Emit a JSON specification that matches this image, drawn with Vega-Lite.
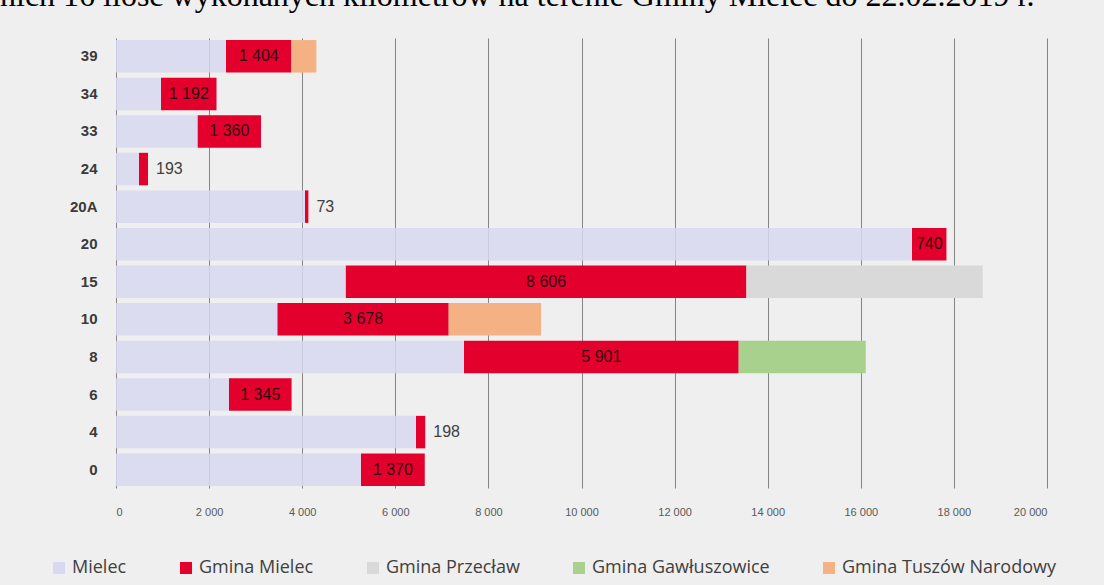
{
  "$schema": "https://vega.github.io/schema/vega-lite/v6.json",
  "autosize": "none",
  "width": 931,
  "height": 450,
  "padding": {"left": 116, "top": 38, "right": 57, "bottom": 97},
  "background": "#efefef",
  "title": {
    "text": "nich 16 ilość wykonanych kilometrów na terenie Gminy Mielec do 22.02.2019 r.",
    "anchor": "start",
    "frame": "group",
    "orient": "top",
    "dx": -116,
    "dy": 20,
    "offset": 20,
    "baseline": "alphabetic",
    "font": "Liberation Serif",
    "fontSize": 32,
    "fontWeight": "normal",
    "color": "#000000"
  },
  "config": {
    "locale": {"number": {"decimal": ",", "thousands": " ", "grouping": [3], "currency": ["", " zł"]}},
    "view": {"stroke": null},
    "font": "Liberation Sans"
  },
  "data": {
    "values": [
      {"linia": "39", "seria": "Mielec", "km": 2363},
      {"linia": "39", "seria": "Gmina Mielec", "km": 1404},
      {"linia": "39", "seria": "Gmina Tuszów Narodowy", "km": 537},
      {"linia": "34", "seria": "Mielec", "km": 967},
      {"linia": "34", "seria": "Gmina Mielec", "km": 1192},
      {"linia": "33", "seria": "Mielec", "km": 1755},
      {"linia": "33", "seria": "Gmina Mielec", "km": 1360},
      {"linia": "24", "seria": "Mielec", "km": 494},
      {"linia": "24", "seria": "Gmina Mielec", "km": 193},
      {"linia": "20A", "seria": "Mielec", "km": 4060},
      {"linia": "20A", "seria": "Gmina Mielec", "km": 73},
      {"linia": "20", "seria": "Mielec", "km": 17100},
      {"linia": "20", "seria": "Gmina Mielec", "km": 740},
      {"linia": "15", "seria": "Mielec", "km": 4937},
      {"linia": "15", "seria": "Gmina Mielec", "km": 8606},
      {"linia": "15", "seria": "Gmina Przecław", "km": 5076},
      {"linia": "10", "seria": "Mielec", "km": 3469},
      {"linia": "10", "seria": "Gmina Mielec", "km": 3678},
      {"linia": "10", "seria": "Gmina Tuszów Narodowy", "km": 1983},
      {"linia": "8", "seria": "Mielec", "km": 7476},
      {"linia": "8", "seria": "Gmina Mielec", "km": 5901},
      {"linia": "8", "seria": "Gmina Gawłuszowice", "km": 2730},
      {"linia": "6", "seria": "Mielec", "km": 2427},
      {"linia": "6", "seria": "Gmina Mielec", "km": 1345},
      {"linia": "4", "seria": "Mielec", "km": 6445},
      {"linia": "4", "seria": "Gmina Mielec", "km": 198},
      {"linia": "0", "seria": "Mielec", "km": 5263},
      {"linia": "0", "seria": "Gmina Mielec", "km": 1370}
    ]
  },
  "transform": [
    {"window": [{"op": "row_number", "as": "kolejnosc"}]}
  ],
  "encoding": {
    "y": {
      "field": "linia",
      "type": "nominal",
      "sort": ["39", "34", "33", "24", "20A", "20", "15", "10", "8", "6", "4", "0"],
      "scale": {"paddingInner": 0.135, "paddingOuter": 0.055},
      "axis": {
        "title": null,
        "domain": false,
        "ticks": false,
        "grid": false,
        "labelFontWeight": "bold",
        "labelFontSize": 15,
        "labelColor": "#3a3a3a",
        "labelPadding": 19
      }
    },
    "order": {"field": "kolejnosc", "type": "quantitative"}
  },
  "layer": [
    {
      "mark": {"type": "bar"},
      "encoding": {
        "x": {
          "field": "km",
          "type": "quantitative",
          "stack": "zero",
          "scale": {"domain": [0, 20000], "nice": false},
          "axis": {
            "title": null,
            "values": [0, 2000, 4000, 6000, 8000, 10000, 12000, 14000, 16000, 18000, 20000],
            "format": ",d",
            "domain": false,
            "ticks": false,
            "grid": true,
            "gridColor": "#858585",
            "gridWidth": 1,
            "gridOpacity": 1,
            "labelFontSize": 11,
            "labelColor": "#595959",
            "labelPadding": 18,
            "labelFont": "Liberation Sans"
          }
        },
        "color": {
          "field": "seria",
          "type": "nominal",
          "sort": ["Mielec", "Gmina Mielec", "Gmina Przecław", "Gmina Gawłuszowice", "Gmina Tuszów Narodowy"],
          "scale": {
            "domain": ["Mielec", "Gmina Mielec", "Gmina Przecław", "Gmina Gawłuszowice", "Gmina Tuszów Narodowy"],
            "range": ["#d8d8f0", "#e3002c", "#d9d9d9", "#a9d18e", "#f4b183"]
          },
          "legend": {
            "title": null,
            "orient": "none",
            "direction": "horizontal",
            "columns": 5,
            "legendX": -66,
            "legendY": 521,
            "padding": 0,
            "symbolType": "square",
            "symbolSize": 144,
            "symbolStrokeWidth": 0,
            "symbolOpacity": 1,
            "labelFont": "Open Sans",
            "labelFontSize": 18,
            "labelColor": "#404040",
            "labelOffset": 4,
            "columnPadding": 50,
            "labelLimit": 400
          }
        },
        "opacity": {
          "condition": {"test": "datum.seria === 'Mielec'", "value": 0.85},
          "value": 1
        }
      }
    },
    {
      "mark": {"type": "text", "fontSize": 16, "baseline": "middle", "align": "center"},
      "encoding": {
        "x": {"field": "km", "type": "quantitative", "stack": "zero", "bandPosition": 0.5},
        "color": {
          "field": "seria",
          "type": "nominal",
          "legend": null
        },
        "fill": {"value": "#2e0a12"},
        "text": {
          "condition": {"test": "datum.seria === 'Gmina Mielec' && datum.km >= 500", "field": "km", "type": "quantitative", "format": ",d"},
          "value": ""
        }
      }
    },
    {
      "mark": {"type": "text", "fontSize": 16, "baseline": "middle", "align": "left", "dx": 8},
      "encoding": {
        "x": {"field": "km", "type": "quantitative", "stack": "zero", "bandPosition": 1},
        "color": {
          "field": "seria",
          "type": "nominal",
          "legend": null
        },
        "fill": {"value": "#404040"},
        "text": {
          "condition": {"test": "datum.seria === 'Gmina Mielec' && datum.km < 500", "field": "km", "type": "quantitative", "format": ",d"},
          "value": ""
        }
      }
    }
  ]
}
